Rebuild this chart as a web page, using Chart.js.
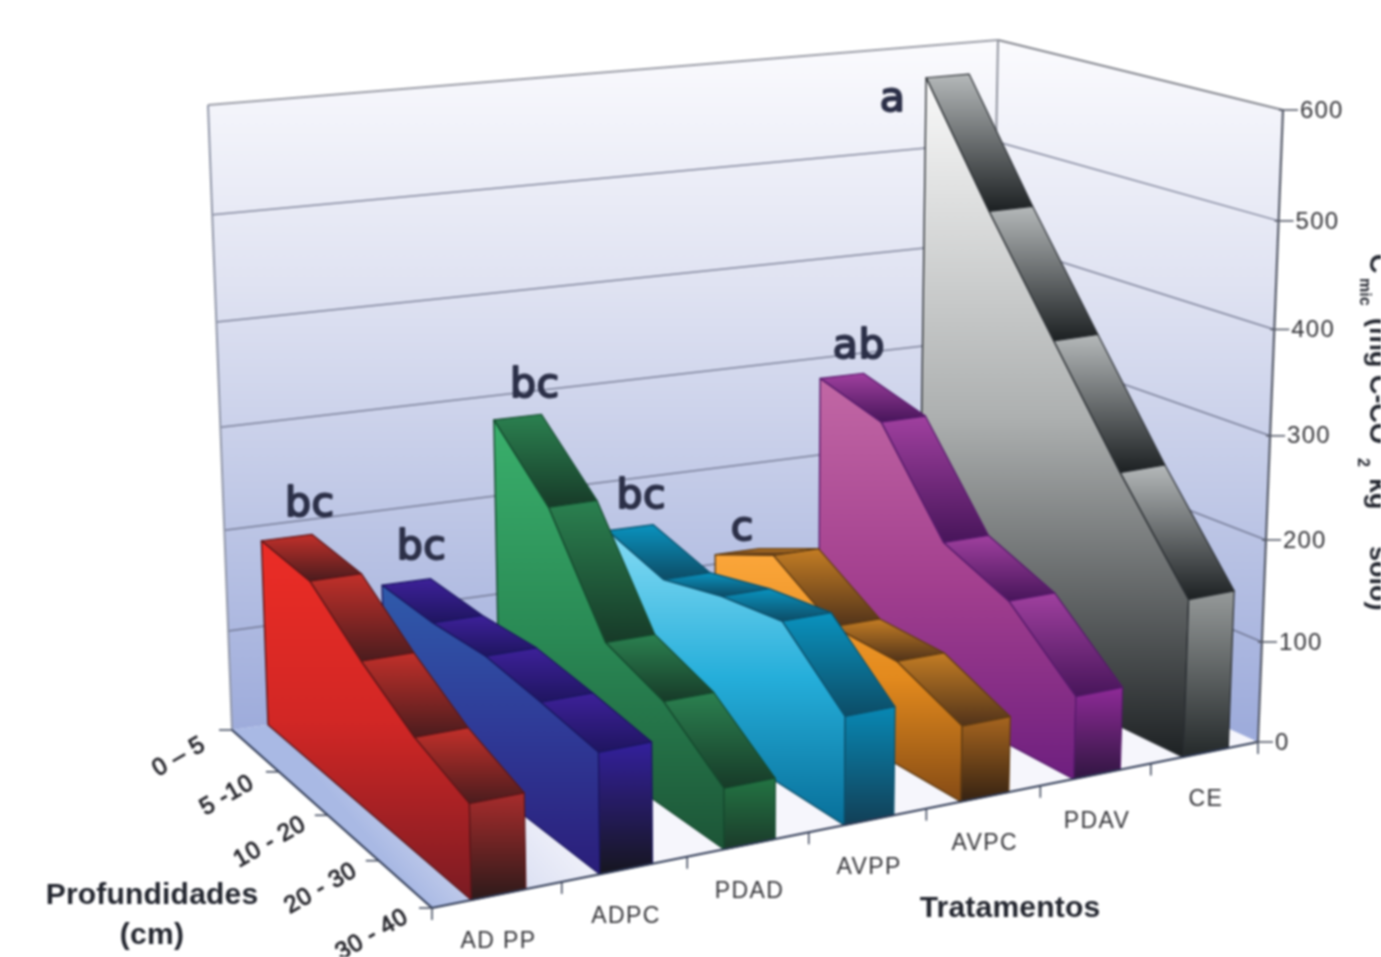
<!DOCTYPE html>
<html>
<head>
<meta charset="utf-8">
<style>
html,body{margin:0;padding:0;background:#fff;overflow:hidden}
canvas{display:block;filter:blur(0.8px)}
</style>
<script src="https://cdn.jsdelivr.net/npm/chart.js@4/dist/chart.umd.min.js"></script>
</head>
<body>
<canvas id="c" width="1381" height="957"></canvas>
<script>
// ---- data ----
const depths = ["0 – 5", "5 -10", "10 - 20", "20 - 30", "30 - 40"];
const treatments = ["AD PP", "ADPC", "PDAD", "AVPP", "AVPC", "PDAV", "CE"];
const ADPP = [185, 184, 146, 114, 94];
const ADPC = [125, 125, 131, 126, 119];
const PDAD = [276, 223, 125, 105, 60];
const AVPP = [150, 134, 152, 163, 107];
const AVPC = [110, 142, 103, 103, 75];
const PDAV = [279, 262, 170, 143, 82];
const CE   = [569, 458, 354, 251, 156];
const letters = ["bc", "bc", "bc", "bc", "c", "ab", "a"];
const yMax = 600;

// ---- styles ----
const sideColors = [
  ["#ec2d26", "#d22725", "#7a1b23"], ["#2f5bab", "#2f3a97", "#2b1e7a"], ["#3ab06c", "#2a8a55", "#1d5537"],
  ["#86dcf5", "#25aeda", "#086f99"], ["#fba63a", "#e38a1d", "#854b15"], ["#c268a5", "#a4408f", "#6e1f7f"],
  ["#fafafa", "#adb0b0", "#1e2224"]
];
const topColors = [
  ["#c2302a", "#4a1c1e"], ["#3d2199", "#1f1560"], ["#2b8150", "#173a28"], ["#0a93bf", "#0d4c66"],
  ["#c47d24", "#51331a"], ["#a0409f", "#47155a"], ["#b5b9ba", "#1c2022"]
];
const frontColors = [
  ["#a82c2c", "#2c1a1a"], ["#33209c", "#16161f"], ["#237443", "#1b3a2a"], ["#0888b4", "#123f56"],
  ["#a7651f", "#352212"], ["#8e2a97", "#301641"], ["#969a9a", "#24292a"]
];
const edgeColors = ["#5a1518", "#1a1660", "#14482d", "#0b4f6b", "#5e3a12", "#55196a", "#2a2e32"];
const bandFrom = 0.30, bandTo = 0.72;

// Corners of the 3D box on the page
const A = [232, 730], B = [432, 908], C = [1258, 742], D = [987, 618];
const At = [208, 105], Bt = [417, 258], Ct = [1283, 110], Dt = [998, 40];
const warp = (x, k) => x * k / (1 + x * (k - 1));
const lerp = (p, q, f) => [p[0] + (q[0] - p[0]) * f, p[1] + (q[1] - p[1]) * f];
function project(u, d, s) {
  const U = warp(u, 1.118), V = warp(d, 0.92), F = warp(s, 0.94);
  const floor = lerp(lerp(A, D, U), lerp(B, C, U), V);
  const ceil = lerp(lerp(At, Dt, U), lerp(Bt, Ct, U), V);
  return lerp(floor, ceil, F);
}
function poly(ctx, pts) {
  ctx.beginPath();
  pts.forEach((p, i) => i ? ctx.lineTo(p[0], p[1]) : ctx.moveTo(p[0], p[1]));
  ctx.closePath();
}
function vGrad(ctx, pts, cols) {
  const ys = pts.map(p => p[1]);
  const g = ctx.createLinearGradient(0, Math.min(...ys), 0, Math.max(...ys));
  cols.forEach((c, i) => g.addColorStop(i / (cols.length - 1), c));
  return g;
}
function line(ctx, p, q, col, w) {
  ctx.strokeStyle = col; ctx.lineWidth = w;
  ctx.beginPath(); ctx.moveTo(p[0], p[1]); ctx.lineTo(q[0], q[1]); ctx.stroke();
}
function text(ctx, str, x, y, font, col, spacing, rot, align, stroke) {
  ctx.save();
  ctx.translate(x, y);
  if (rot) ctx.rotate(rot);
  ctx.font = font; ctx.fillStyle = col;
  ctx.letterSpacing = (spacing || 0) + "px";
  ctx.textAlign = align || "center"; ctx.textBaseline = "middle";
  ctx.fillText(str, 0, 0);
  if (stroke) { ctx.strokeStyle = col; ctx.lineWidth = stroke; ctx.strokeText(str, 0, 0); }
  ctx.restore();
}

const walls = {
  id: "walls",
  beforeDatasetsDraw(chart) {
    const ctx = chart.ctx, yS = chart.scales.y;
    const frac = v => (yS.bottom - yS.getPixelForValue(v)) / (yS.bottom - yS.top);
    ctx.save();
    // floor
    poly(ctx, [A, B, C, D]);
    const fg = ctx.createLinearGradient(425, 905, 560, 790);
    fg.addColorStop(0, "#a9b9e4"); fg.addColorStop(0.55, "#dfe3f4"); fg.addColorStop(1, "#f6f6fc");
    ctx.fillStyle = fg; ctx.fill();
    // walls
    [[A, D, Dt, At], [D, C, Ct, Dt]].forEach(w => {
      poly(ctx, w);
      const g = ctx.createLinearGradient(0, 40, 0, 735);
      g.addColorStop(0, "#fbfbfe"); g.addColorStop(0.35, "#e0e3f2");
      g.addColorStop(0.7, "#bcc5e5"); g.addColorStop(1, "#9dabdb");
      ctx.fillStyle = g; ctx.fill();
    });
    // gridlines
    yS.ticks.forEach(t => {
      const s = frac(t.value);
      if (s > 0 && s < 1) {
        line(ctx, project(0, 0, s), project(1, 0, s), "rgba(95,100,125,.75)", 1.5);
        line(ctx, project(1, 0, s), project(1, 1, s), "rgba(95,100,125,.75)", 1.5);
      }
    });
    // box outline
    line(ctx, At, Dt, "#9a9ca6", 2); line(ctx, Dt, Ct, "#85878f", 2);
    line(ctx, At, A, "#9096a8", 2); line(ctx, Dt, D, "#90939e", 2);
    ctx.restore();
  },
  afterDatasetsDraw(chart) {
    const ctx = chart.ctx, area = chart.chartArea, tS = chart.scales.t, yS = chart.scales.y;
    const uOf = v => (tS.getPixelForValue(v) - tS.left) / (tS.right - tS.left);
    ctx.save();
    ctx.lineJoin = "round";
    const n = chart.data.datasets.length;
    for (let i = n - 1; i >= 0; i--) {
      const meta = chart.getDatasetMeta(i);
      const ds = meta.data.map(e => (e.x - area.left) / (area.right - area.left));
      const ss = meta.data.map(e => (area.bottom - e.y) / (area.bottom - area.top));
      const u0 = uOf(i + bandFrom), u1 = uOf(i + bandTo);
      // top surfaces
      for (let k = 0; k < ds.length - 1; k++) {
        const q = [project(u0, ds[k], ss[k]), project(u1, ds[k], ss[k]),
                   project(u1, ds[k + 1], ss[k + 1]), project(u0, ds[k + 1], ss[k + 1])];
        poly(ctx, q);
        ctx.fillStyle = vGrad(ctx, q, topColors[i]);
        ctx.fill();
        ctx.strokeStyle = edgeColors[i]; ctx.lineWidth = 1.2; ctx.stroke();
      }
      // side face
      const side = ds.map((d, k) => project(u0, d, ss[k]));
      side.push(project(u0, ds[ds.length - 1], 0), project(u0, ds[0], 0));
      poly(ctx, side);
      ctx.fillStyle = vGrad(ctx, side, sideColors[i]);
      ctx.fill();
      ctx.strokeStyle = edgeColors[i]; ctx.lineWidth = 1.4; ctx.stroke();
      // front face
      const e = ds.length - 1;
      const fr = [project(u0, ds[e], ss[e]), project(u1, ds[e], ss[e]), project(u1, ds[e], 0), project(u0, ds[e], 0)];
      poly(ctx, fr);
      ctx.fillStyle = vGrad(ctx, fr, frontColors[i]);
      ctx.fill();
      ctx.strokeStyle = edgeColors[i]; ctx.lineWidth = 1.2; ctx.stroke();
    }
    // axes
    line(ctx, project(0, 0, 0), project(0, 1, 0), "#2f3a55", 2);
    line(ctx, project(0, 1, 0), project(1, 1, 0), "#2f3a55", 2);
    line(ctx, project(1, 1, 0), project(1, 1, 1), "#555a68", 2.2);
    const frac = v => (yS.bottom - yS.getPixelForValue(v)) / (yS.bottom - yS.top);
    // value ticks
    yS.ticks.forEach(t => {
      const p = project(1, 1, frac(t.value));
      line(ctx, [p[0] - 4, p[1]], [p[0] + 15, p[1]], "#555a68", 1.6);
      text(ctx, String(t.value), p[0] + 17, p[1] + 1, "24px 'Liberation Sans'", "#333337", 1.2, 0, "left");
    });
    // treatment ticks and labels
    treatments.forEach((lab, i) => {
      const p = project(uOf(i), 1, 0);
      line(ctx, p, [p[0], p[1] + 12], "#3a4358", 1.5);
      const m = project(uOf(i + 0.5), 1, 0);
      text(ctx, lab, m[0] + 1, m[1] + 47, "23px 'Liberation Sans'", "#333337", 1.4);
    });
    const pe = project(1, 1, 0);
    line(ctx, pe, [pe[0], pe[1] + 12], "#3a4358", 1.5);
    // depth ticks and labels
    const xS = chart.scales.x;
    const depthOffsets = [[-53, 27], [-52, 24], [-58, 27], [-58, 28], [-60, 27]];
    depths.forEach((lab, i) => {
      const d = (xS.getPixelForValue(i) - xS.left) / (xS.right - xS.left);
      const p = project(0, d, 0);
      line(ctx, p, [p[0] - 13, p[1]], "#3a4358", 1.5);
      text(ctx, lab, p[0] + depthOffsets[i][0], p[1] + depthOffsets[i][1], "24px 'Liberation Sans'", "#26262c", 0.6, -0.52, "center", 0.9);
    });
    // letters above bands
    const offsets = [[23, -32], [15, -34], [17, -31], [11, -30], [5, -22], [17, -28], [-55, 24]];
    letters.forEach((l, i) => {
      const meta = chart.getDatasetMeta(i);
      const s0 = (area.bottom - meta.data[0].y) / (area.bottom - area.top);
      const p = project(uOf(i + (bandFrom + bandTo) / 2), 0, s0);
      const x = p[0] + offsets[i][0], y = p[1] + offsets[i][1];
      text(ctx, l, x, y, "41px 'DejaVu Sans'", "#2c3048", 0.5, 0, "center", 2);
    });
    // axis titles
    text(ctx, "Profundidades", 152, 896, "bold 30px 'Liberation Sans'", "#23262f", 0.2);
    text(ctx, "(cm)", 152, 936, "bold 30px 'Liberation Sans'", "#23262f", 0.3);
    text(ctx, "Tratamentos", 1010, 909, "bold 30px 'Liberation Sans'", "#23262f", 0.2);
    // value-axis title, clipped by the page edge
    ctx.translate(1370, 0);
    ctx.rotate(Math.PI / 2);
    ctx.fillStyle = "#23262f"; ctx.textAlign = "left"; ctx.textBaseline = "alphabetic";
    const big = "bold 27px 'Liberation Sans'", small = "bold 16px 'Liberation Sans'";
    [["C", 254, 0, big], ["mic", 278, 10, small], ["(mg C-CO", 318, 0, big], ["2", 458, 12, small],
     ["kg", 478, 0, big], ["-1", 515, -14, small], ["solo)", 546, 0, big]].forEach(t => {
      ctx.font = t[3]; ctx.fillText(t[0], t[1], t[2]);
    });
    ctx.restore();
  }
};

new Chart(document.getElementById("c"), {
  type: "line",
  data: {
    labels: depths,
    datasets: [ADPP, ADPC, PDAD, AVPP, AVPC, PDAV, CE].map((data, i) => ({
      label: treatments[i], data, showLine: false, pointRadius: 0
    }))
  },
  plugins: [walls],
  options: {
    responsive: false,
    animation: false,
    layout: { padding: 0 },
    plugins: { legend: { display: false }, tooltip: { enabled: false }, title: { display: false } },
    scales: {
      x: { display: false, offset: false },
      t: { type: "linear", axis: "x", display: false, min: 0, max: treatments.length },
      y: { display: false, min: 0, max: yMax, ticks: { stepSize: 100 } }
    }
  }
});
</script>
</body>
</html>
